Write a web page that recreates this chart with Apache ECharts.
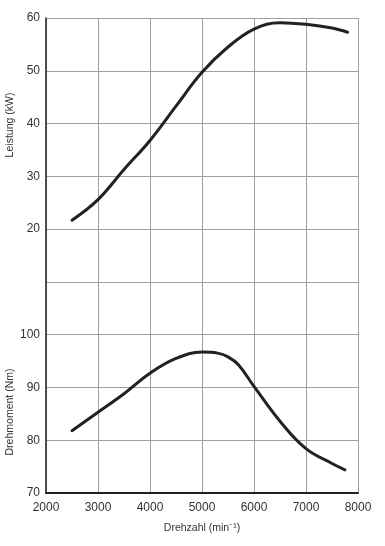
<!DOCTYPE html>
<html><head><meta charset="utf-8">
<script src="https://cdn.jsdelivr.net/npm/echarts@6/dist/echarts.min.js"></script>
<style>html,body{margin:0;padding:0;background:#fff}#c{width:385px;height:546px}</style>
</head><body><div id="c"></div>
<script>
const rpm = [2500, 3000, 3500, 4000, 4500, 5000, 5500, 6000, 6500, 7000, 7500, 7800];
const leistung = [21.7, 25.6, 31.3, 36.8, 43.3, 49.7, 54.5, 57.9, 59.1, 58.8, 58.1, 57.3];
const rpmT = [2500, 3000, 3500, 4000, 4500, 5000, 5300, 5500, 5700, 6000, 6500, 7000, 7500, 7750];
const drehmoment = [81.8, 85.3, 88.8, 92.7, 95.5, 96.7, 96.5, 95.8, 94.3, 90.2, 83.6, 78.4, 75.6, 74.4];
const xTicks = [2000, 3000, 4000, 5000, 6000, 7000, 8000];
const powerTicks = [20, 30, 40, 50, 60];
const torqueTicks = [70, 80, 90, 100];

const chart = echarts.init(document.getElementById('c'));
const font = 'Liberation Sans, Arial, sans-serif';
chart.setOption({
  animation: false,
  grid: {left: 46, top: 18, right: 27, bottom: 53},
  xAxis: {
    type: 'value', min: 2000, max: 8000, interval: 1000,
    axisLine: {show: true, onZero: false, lineStyle: {color: '#222', width: 2}},
    axisTick: {show: false},
    splitLine: {show: true, lineStyle: {color: '#a0a0a0', width: 1}},
    axisLabel: {color: '#333', fontSize: 12, fontFamily: font, margin: 9,
      formatter: v => xTicks.includes(v) ? String(v) : ''}
  },
  yAxis: [
    {type: 'value', min: -30, max: 60, interval: 10, position: 'left',
      axisLine: {show: true, onZero: false, lineStyle: {color: '#222', width: 1.5}},
      axisTick: {show: false},
      splitLine: {show: true, lineStyle: {color: '#a0a0a0', width: 1}},
      axisLabel: {color: '#333', fontSize: 12, fontFamily: font, margin: 6,
        formatter: v => powerTicks.includes(v) ? String(v) : ''}
    },
    {type: 'value', min: 70, max: 160, interval: 10, position: 'left',
      axisLine: {show: false}, axisTick: {show: false}, splitLine: {show: false},
      axisLabel: {color: '#333', fontSize: 12, fontFamily: font, margin: 6,
        formatter: v => torqueTicks.includes(v) ? String(v) : ''}
    }
  ],
  graphic: [
    {type: 'text', x: 10, y: 125, rotation: Math.PI / 2,
      style: {text: 'Leistung (kW)', font: '10.5px ' + font, fill: '#333', align: 'center', verticalAlign: 'middle'}},
    {type: 'text', x: 10, y: 412, rotation: Math.PI / 2,
      style: {text: 'Drehmoment (Nm)', font: '10.5px ' + font, fill: '#333', align: 'center', verticalAlign: 'middle'}},
    {type: 'text', x: 202, y: 528,
      style: {text: 'Drehzahl (min⁻¹)', font: '10.5px ' + font, fill: '#333', align: 'center', verticalAlign: 'middle'}}
  ],
  series: [
    {type: 'line', yAxisIndex: 0, smooth: 0.4, showSymbol: false,
      lineStyle: {color: '#222', width: 3, cap: 'round'},
      data: rpm.map((r, i) => [r, leistung[i]])},
    {type: 'line', yAxisIndex: 1, smooth: 0.4, showSymbol: false,
      lineStyle: {color: '#222', width: 3, cap: 'round'},
      data: rpmT.map((r, i) => [r, drehmoment[i]])}
  ]
});
</script></body></html>
